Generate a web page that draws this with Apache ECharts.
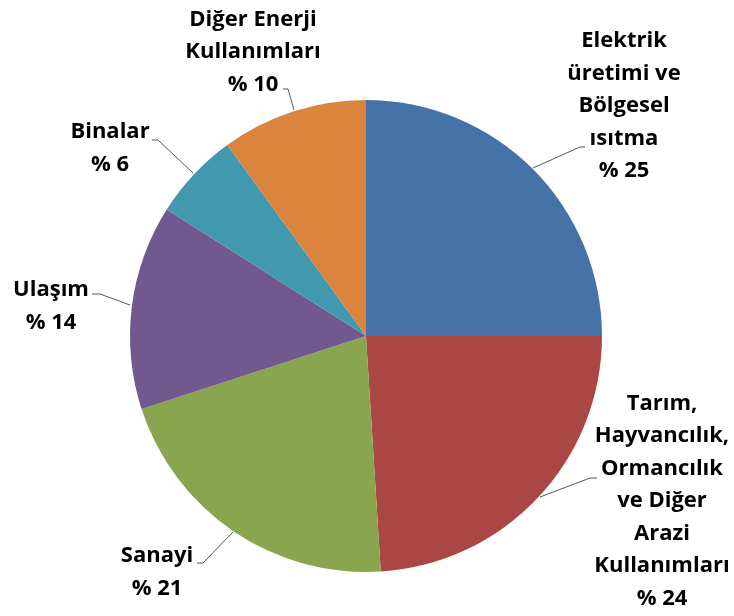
<!DOCTYPE html>
<html>
<head>
<meta charset="utf-8">
<script src="https://cdn.jsdelivr.net/npm/echarts@6/dist/echarts.min.js"></script>
<style>
  html, body { margin: 0; padding: 0; background: #fff; }
  #chart { width: 734px; height: 616px; }
</style>
</head>
<body>
<div id="chart"></div>
<script>
// sectors, clockwise from 12 o'clock
const categories = [
  'Elektrik\nüretimi ve\nBölgesel\nısıtma',
  'Tarım,\nHayvancılık,\nOrmancılık\nve Diğer\nArazi\nKullanımları',
  'Sanayi',
  'Ulaşım',
  'Binalar',
  'Diğer Enerji\nKullanımları'
]
const values = [25, 24, 21, 14, 6, 10]
const colors = ['#4572A7', '#AA4643', '#89A54E', '#71588F', '#4198AF', '#DB843D']

// label block centres and leader lines, hand placed like the original
const labelPos = [
  [624, 106],
  [662, 501],
  [157, 572],
  [51, 306],
  [110, 148],
  [253, 52]
]
const leaderLines = [
  [[533, 168], [580, 147], [585, 147]],
  [[540, 497], [590, 478], [597, 478]],
  [[233, 532], [203, 563], [197, 563]],
  [[130, 305], [100, 294], [92, 294]],
  [[193, 173], [158, 140], [152, 140]],
  [[294, 110], [288, 89], [283, 89]]
]

const chart = echarts.init(document.getElementById('chart'))

chart.setOption({
  animation: false,
  series: [{
    type: 'pie',
    center: [366, 336],
    radius: 236,
    startAngle: 90,
    clockwise: true,
    data: categories.map((name, i) => ({
      name: name,
      value: values[i],
      itemStyle: { color: colors[i] }
    })),
    label: {
      show: true,
      formatter: p => p.name + '\n% ' + p.value,
      fontFamily: 'Open Sans',
      fontWeight: 'bold',
      fontSize: 22,
      lineHeight: 32.5,
      color: '#000',
      align: 'center'
    },
    labelLine: {
      show: true,
      length: 10,
      length2: 10,
      lineStyle: { color: '#555', width: 1 }
    },
    labelLayout: params => {
      const i = params.dataIndex
      return {
        x: labelPos[i][0],
        y: labelPos[i][1],
        align: 'center',
        verticalAlign: 'middle',
        labelLinePoints: leaderLines[i]
      }
    }
  }]
})
</script>
</body>
</html>
